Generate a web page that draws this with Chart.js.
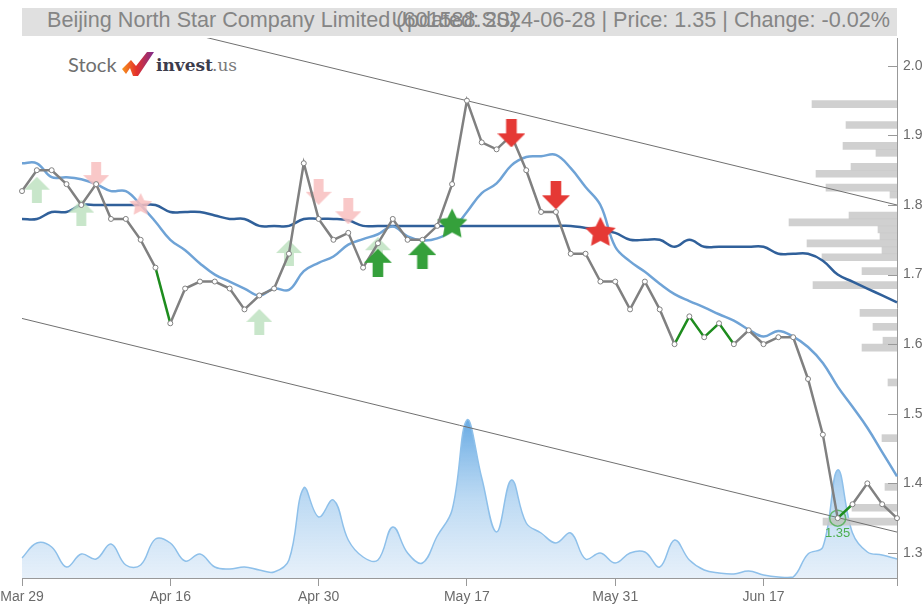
<!DOCTYPE html>
<html>
<head>
<meta charset="utf-8">
<script src="https://cdn.jsdelivr.net/npm/chart.js@4.4.1/dist/chart.umd.min.js"></script>
<style>
  body { margin: 0; background: #fff; overflow: hidden; font-family: "Liberation Sans", Arial, sans-serif; }
  #wrap { position: relative; width: 923px; height: 608px; }
  #chart { position: absolute; left: 0; top: 0; }
  #title { position: absolute; left: 22px; top: 8px; width: 875px; height: 28px; background: #e0e0e0; }
  .tt { position: absolute; top: -1px; font-size: 21.6px; line-height: 26px; color: #858585; white-space: nowrap; }
  #logo { position: absolute; left: 68px; top: 50px; height: 28px; white-space: nowrap; }
  #logo span { position: absolute; top: 0; }
</style>
</head>
<body>
<div id="wrap">
  <div id="title">
    <span class="tt" style="left:25px">Beijing North Star Company Limited (601588.SS)</span>
    <span class="tt" style="right:7px">Updated: 2024-06-28 | Price: 1.35 | Change: -0.02%</span>
  </div>
  <div id="logo">
    <span style="left:0;font-family:Lato,sans-serif;font-size:20px;line-height:28px;color:#6f6f6f">Stock</span>
    <svg style="position:absolute;left:53px;top:1px" width="34" height="26" viewBox="0 0 34 26">
      <defs>
        <linearGradient id="lg" x1="0" y1="0" x2="1" y2="0">
          <stop offset="0" stop-color="#f7941d"/>
          <stop offset="0.45" stop-color="#e4312b"/>
          <stop offset="1" stop-color="#7e2d8f"/>
        </linearGradient>
      </defs>
      <polygon points="1,18 10,9 15,15 26,1 33,1 17,25 12,25 9,17 5,23" fill="url(#lg)"/>
    </svg>
    <span style="left:88px;font-family:'DejaVu Serif',serif;font-weight:bold;font-size:17px;line-height:30px;color:#3c3c4c">invest</span>
    <span style="left:144px;font-family:'DejaVu Serif',serif;font-size:17px;line-height:30px;color:#7a7a7a">.us</span>
  </div>
  <canvas id="chart" width="923" height="608"></canvas>
</div>
<script>
// trading days shown on the x axis
const dates = [
  "Mar 29", "Apr 1", "Apr 2", "Apr 3", "Apr 8", "Apr 9", "Apr 10", "Apr 11", "Apr 12", "Apr 15",
  "Apr 16", "Apr 17", "Apr 18", "Apr 19", "Apr 22", "Apr 23", "Apr 24", "Apr 25", "Apr 26", "Apr 29",
  "Apr 30", "May 6", "May 7", "May 8", "May 9", "May 10", "May 13", "May 14", "May 15", "May 16",
  "May 17", "May 20", "May 21", "May 22", "May 23", "May 24", "May 27", "May 28", "May 29", "May 30",
  "May 31", "Jun 3", "Jun 4", "Jun 5", "Jun 6", "Jun 7", "Jun 11", "Jun 12", "Jun 13", "Jun 14",
  "Jun 17", "Jun 18", "Jun 19", "Jun 20", "Jun 21", "Jun 24", "Jun 25", "Jun 26", "Jun 27", "Jun 28"
];
const tickDates = ["Mar 29", "Apr 16", "Apr 30", "May 17", "May 31", "Jun 17"];

const price = [
  1.82, 1.85, 1.85, 1.83, 1.80, 1.83, 1.78, 1.78, 1.75, 1.71,
  1.63, 1.68, 1.69, 1.69, 1.68, 1.65, 1.67, 1.68, 1.73, 1.86,
  1.78, 1.75, 1.76, 1.71, 1.745, 1.78, 1.75, 1.75, 1.77, 1.83,
  1.95, 1.89, 1.88, 1.90, 1.85, 1.79, 1.79, 1.73, 1.73, 1.69,
  1.69, 1.65, 1.69, 1.65, 1.60, 1.64, 1.61, 1.63, 1.60, 1.62,
  1.60, 1.61, 1.61, 1.55, 1.47, 1.35, 1.37, 1.40, 1.37, 1.35
];
// short moving average (light blue)
const maShort = [
  1.86, 1.86, 1.84, 1.84, 1.837, 1.83, 1.82, 1.82, 1.80, 1.776,
  1.75, 1.735, 1.716, 1.70, 1.69, 1.68, 1.67, 1.68, 1.678, 1.705,
  1.717, 1.726, 1.743, 1.751, 1.758, 1.769, 1.755, 1.749, 1.752, 1.764,
  1.79, 1.817, 1.831, 1.857, 1.869, 1.87, 1.872, 1.853, 1.826, 1.80,
  1.74, 1.719, 1.704, 1.687, 1.672, 1.662, 1.653, 1.643, 1.634, 1.621,
  1.611, 1.619, 1.611, 1.596, 1.573, 1.539, 1.51, 1.48, 1.445, 1.41
];
// long moving average (dark blue)
const maLong = [
  1.78, 1.78, 1.79, 1.79, 1.80, 1.80, 1.80, 1.80, 1.80, 1.80,
  1.79, 1.79, 1.79, 1.785, 1.78, 1.78, 1.77, 1.77, 1.77, 1.78,
  1.78, 1.78, 1.778, 1.77, 1.77, 1.77, 1.77, 1.77, 1.77, 1.77,
  1.77, 1.77, 1.77, 1.77, 1.77, 1.77, 1.77, 1.77, 1.767, 1.764,
  1.76, 1.75, 1.75, 1.75, 1.74, 1.75, 1.74, 1.74, 1.74, 1.74,
  1.74, 1.73, 1.73, 1.73, 1.72, 1.70, 1.69, 1.68, 1.67, 1.66
];
// relative traded volume
const volume = [
  20, 35, 31, 11, 24, 19, 34, 13, 13, 39,
  35, 17, 24, 11, 9, 11, 8, 6, 18, 90,
  61, 78, 38, 21, 18, 51, 25, 15, 42, 68,
  158, 100, 46, 98, 55, 45, 35, 45, 19, 25,
  15, 25, 26, 11, 38, 18, 8, 5, 4, 7,
  3, 1, 1, 24, 31, 108, 45, 26, 23, 19
];
// volume by price level (right-hand profile)
const profilePrice = [1.95, 1.92, 1.89, 1.88, 1.86, 1.85, 1.83, 1.82, 1.79, 1.78, 1.77, 1.76, 1.75, 1.74, 1.73,
  1.71, 1.69, 1.65, 1.63, 1.61, 1.60, 1.55, 1.47, 1.40, 1.37, 1.35];
const profileVolume = [85, 51, 54, 21, 46, 81, 71, 7, 48, 108, 19, 17, 90, 15, 75,
  35, 84, 37, 24, 14, 35, 9, 15, 12, 45, 74];

const channelUpper = [2.105, 1.800];
const channelLower = [1.637, 1.330];
const greenSegments = [9, 44, 45, 46, 47, 55];

const buyIdx = [24, 27], buyVal = [1.717, 1.728];
const buyFadedIdx = [1, 4, 16, 18, 24], buyFadedVal = [1.822, 1.789, 1.632, 1.731, 1.735];
const sellIdx = [33, 36], sellVal = [1.903, 1.814];
const sellFadedIdx = [5, 20, 22], sellFadedVal = [1.843, 1.819, 1.791];
const starBuyIdx = [29], starBuyVal = [1.772];
const starSellIdx = [39], starSellVal = [1.760];
const starFadedIdx = [8], starFadedVal = [1.80];
const lowIdx = 55;

const sparse = (idx, vals) => {
  const out = dates.map(() => null);
  idx.forEach((k, i) => { out[k] = vals[i]; });
  return out;
};

function arrowImg(color, down, w, h) {
  const c = document.createElement("canvas");
  c.width = w; c.height = h;
  const g = c.getContext("2d");
  if (down) { g.translate(0, h); g.scale(1, -1); }
  const sw = w * 0.38, hh = h * 0.5;
  g.fillStyle = color;
  g.beginPath();
  g.moveTo(w / 2, 0);
  g.lineTo(w, hh);
  g.lineTo((w + sw) / 2, hh);
  g.lineTo((w + sw) / 2, h);
  g.lineTo((w - sw) / 2, h);
  g.lineTo((w - sw) / 2, hh);
  g.lineTo(0, hh);
  g.closePath();
  g.fill();
  return c;
}

function starImg(color, r) {
  const c = document.createElement("canvas");
  c.width = c.height = r * 2 + 2;
  const g = c.getContext("2d");
  g.translate(r + 1, r + 1);
  g.fillStyle = color;
  g.beginPath();
  for (let i = 0; i < 10; i++) {
    const rr = i % 2 ? r * 0.5 : r;
    const a = -Math.PI / 2 + i * Math.PI / 5;
    g.lineTo(Math.cos(a) * rr, Math.sin(a) * rr);
  }
  g.closePath();
  g.fill();
  return c;
}

const GREEN = "#35a03b", RED = "#e53935";
const GREEN_F = "rgba(190,226,193,0.85)", RED_F = "rgba(248,190,190,0.85)";

const marker = (data, img) => ({
  data, showLine: false, pointStyle: img, pointRadius: 10, pointHoverRadius: 10,
  borderWidth: 0, xAxisID: "x", yAxisID: "y"
});

// y tick marks on the inner side of the right axis
const innerTicks = {
  id: "innerTicks",
  afterDraw(chart) {
    const s = chart.scales.y, c = chart.ctx;
    c.save();
    c.strokeStyle = "#999";
    c.lineWidth = 1;
    s.ticks.forEach(t => {
      const y = Math.round(s.getPixelForValue(t.value)) + 0.5;
      c.beginPath();
      c.moveTo(s.left - 9, y);
      c.lineTo(s.left, y);
      c.stroke();
    });
    c.restore();
  }
};

// label under the marked low
const lowLabel = {
  id: "lowLabel",
  afterDatasetsDraw(chart) {
    const meta = chart.getDatasetMeta(2);
    const p = meta.data[lowIdx];
    if (!p) return;
    const c = chart.ctx;
    c.save();
    c.fillStyle = "#4caf50";
    c.font = "13px 'Liberation Sans', Arial, sans-serif";
    c.textAlign = "center";
    c.textBaseline = "middle";
    c.fillText(price[lowIdx].toFixed(2), p.x, p.y + 15);
    c.restore();
  }
};

const endpoints = (v) => { const a = dates.map(() => null); a[0] = v[0]; a[dates.length - 1] = v[1]; return a; };

const priceMin = 1.264, priceMax = 2.04;

new Chart(document.getElementById("chart"), {
  type: "line",
  data: {
    labels: dates,
    datasets: [
      marker(sparse(buyIdx, buyVal), arrowImg(GREEN, false, 28, 28)),
      marker(sparse(sellIdx, sellVal), arrowImg(RED, true, 28, 28)),
      {
        // price
        data: price, borderColor: "#808080", borderWidth: 2.5, tension: 0,
        pointRadius: 2.5, pointBackgroundColor: "#fff", pointBorderColor: "#808080", pointBorderWidth: 1,
        segment: { borderColor: c => greenSegments.includes(c.p0DataIndex) ? "#1e8c1e" : "#808080" }
      },
      marker(sparse(starBuyIdx, starBuyVal), starImg(GREEN, 16)),
      marker(sparse(starSellIdx, starSellVal), starImg(RED, 16)),
      {
        data: sparse([lowIdx], [price[lowIdx]]), showLine: false, pointStyle: "circle",
        pointRadius: 8, borderColor: "rgba(76,175,80,0.8)", backgroundColor: "rgba(76,175,80,0.08)",
        pointBorderWidth: 1.5
      },
      marker(sparse(buyFadedIdx, buyFadedVal), arrowImg(GREEN_F, false, 26, 26)),
      marker(sparse(sellFadedIdx, sellFadedVal), arrowImg(RED_F, true, 26, 26)),
      marker(sparse(starFadedIdx, starFadedVal), starImg(RED_F, 12)),
      { data: maShort, borderColor: "#6fa3d6", borderWidth: 2.5, pointRadius: 0, tension: 0.4 },
      { data: maLong, borderColor: "#30609a", borderWidth: 2.5, pointRadius: 0, tension: 0.4 },
      { data: endpoints(channelUpper), borderColor: "#707070", borderWidth: 1, pointRadius: 0, spanGaps: true },
      { data: endpoints(channelLower), borderColor: "#707070", borderWidth: 1, pointRadius: 0, spanGaps: true },
      {
        // volume profile
        type: "bar", indexAxis: "y", xAxisID: "xp", yAxisID: "yp",
        data: profilePrice.map((p, i) => ({ x: profileVolume[i], y: p })),
        backgroundColor: "rgba(200,200,200,0.85)", barThickness: 7, borderWidth: 0
      },
      {
        // volume
        data: volume, yAxisID: "yv", borderColor: "#8ec0ea", borderWidth: 1.5, pointRadius: 0,
        tension: 0.4, fill: "start",
        backgroundColor: (c) => {
          const ch = c.chart, area = ch.chartArea;
          if (!area) return "rgba(150,195,235,0.5)";
          const top = ch.scales.yv.getPixelForValue(Math.max(...volume));
          const g = ch.ctx.createLinearGradient(0, top, 0, area.bottom);
          g.addColorStop(0, "rgba(96,166,226,0.95)");
          g.addColorStop(0.5, "rgba(160,202,238,0.7)");
          g.addColorStop(1, "rgba(214,230,246,0.6)");
          return g;
        }
      }
    ]
  },
  options: {
    responsive: false,
    animation: false,
    events: [],
    layout: { padding: { left: 22, top: 38, right: 0, bottom: 0 } },
    plugins: { legend: { display: false }, tooltip: { enabled: false }, title: { display: false } },
    scales: {
      x: {
        type: "category", offset: false,
        border: { display: true, color: "#999" },
        grid: {
          offset: false, drawOnChartArea: false, drawTicks: true, tickLength: 8,
          color: c => (tickDates.includes(dates[c.index]) || c.index === dates.length - 1) ? "#999" : "rgba(0,0,0,0)"
        },
        ticks: {
          autoSkip: false, maxRotation: 0, padding: 3, color: "#6b6b6b",
          font: { family: "'Liberation Sans', Arial, sans-serif", size: 14 },
          callback: (v, i) => tickDates.includes(dates[i]) ? dates[i] : ""
        },
        afterFit: s => { s.paddingLeft = 0; s.paddingRight = 0; s.height = 30; }
      },
      xp: { type: "linear", display: false, reverse: true, min: 0, max: 875, offset: false },
      y: {
        type: "linear", position: "right", min: priceMin, max: priceMax, offset: false,
        border: { display: true, color: "#999" },
        grid: { display: false, drawTicks: false, offset: false },
        ticks: {
          stepSize: 0.1, includeBounds: false, padding: 6, color: "#6b6b6b",
          font: { family: "'Liberation Sans', Arial, sans-serif", size: 14 },
          callback: v => v.toFixed(1)
        },
        afterFit: s => { s.width = 26; s.paddingTop = 0; s.paddingBottom = 0; }
      },
      yp: { type: "linear", display: false, min: priceMin, max: priceMax, offset: false, grid: { offset: false } },
      yv: { type: "linear", display: false, min: 0, max: 540 }
    }
  },
  plugins: [innerTicks, lowLabel]
});
</script>
</body>
</html>
